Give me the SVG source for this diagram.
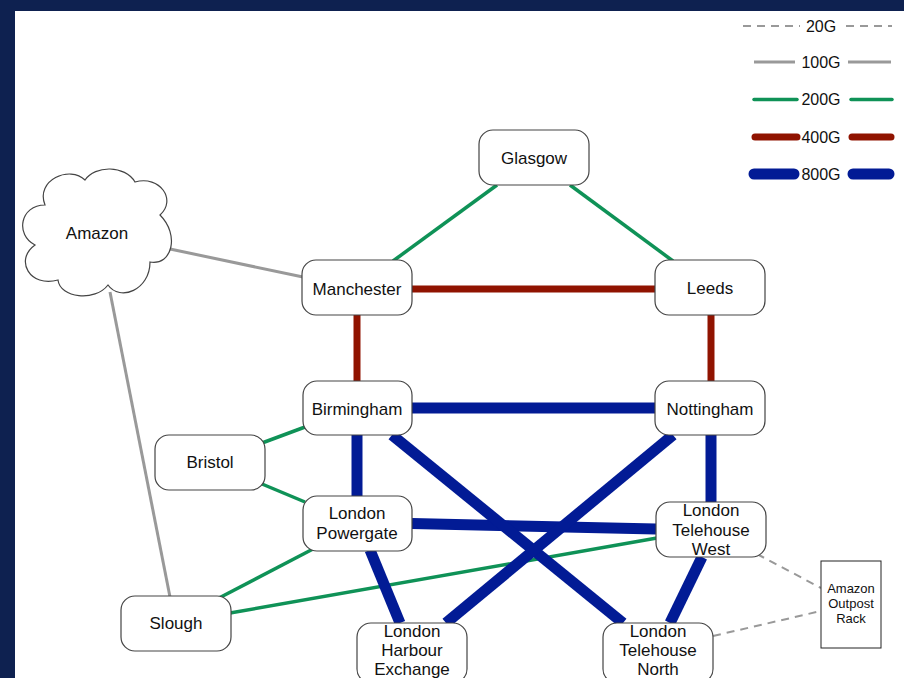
<svg xmlns="http://www.w3.org/2000/svg" width="904" height="678" viewBox="0 0 904 678">
<style>
.node{fill:#fff;stroke:#444;stroke-width:1.2}
.t{font-family:"Liberation Sans",Arial,sans-serif;font-size:17px;fill:#111;text-anchor:middle}
.ts{font-family:"Liberation Sans",Arial,sans-serif;font-size:13px;fill:#111;text-anchor:middle}
.g20{stroke:#999;stroke-width:2;stroke-dasharray:8 6;fill:none}
.g100{stroke:#999;stroke-width:3;fill:none}
.g200{stroke:#0f9257;stroke-width:3.5;fill:none}
.g400{stroke:#901300;stroke-width:7;fill:none}
.g800{stroke:#021b95;stroke-width:11;fill:none}
.cap{stroke-linecap:round}
</style>
<rect x="0" y="0" width="904" height="678" fill="#0e2150"/>
<rect x="15" y="11" width="889" height="667" fill="#fff"/>

<g id="legend">
<line class="g20" x1="743" y1="26" x2="800" y2="26"/>
<line class="g20" x1="846" y1="26" x2="892" y2="26"/>
<text class="t" x="821" y="32" style="font-size:16px">20G</text>
<line class="g100" x1="754" y1="62" x2="795" y2="62"/>
<line class="g100" x1="848" y1="62" x2="891" y2="62"/>
<text class="t" x="821" y="68" style="font-size:16px">100G</text>
<line class="g200 cap" x1="754" y1="99.5" x2="797" y2="99.5"/>
<line class="g200 cap" x1="851" y1="99.5" x2="892" y2="99.5"/>
<text class="t" x="821" y="105" style="font-size:16px">200G</text>
<line class="g400 cap" x1="755" y1="137" x2="797" y2="137"/>
<line class="g400 cap" x1="852" y1="137" x2="891" y2="137"/>
<text class="t" x="821" y="143" style="font-size:16px">400G</text>
<line class="g800 cap" x1="754" y1="174" x2="794" y2="174"/>
<line class="g800 cap" x1="853" y1="174" x2="889" y2="174"/>
<text class="t" x="821" y="180" style="font-size:16px">800G</text>
</g>

<g id="connectors">
<line class="g100" x1="170" y1="249" x2="303" y2="277"/>
<line class="g100" x1="110" y1="292" x2="170" y2="597"/>
<line class="g200" x1="497" y1="185" x2="393" y2="261"/>
<line class="g200" x1="570" y1="185" x2="673" y2="261"/>
<line class="g200" x1="262" y1="443" x2="305" y2="427"/>
<line class="g200" x1="262" y1="484" x2="305" y2="502"/>
<line class="g200" x1="313" y1="549" x2="219" y2="598"/>
<line class="g200" x1="657" y1="538" x2="230" y2="613"/>
<line class="g400" x1="412" y1="289" x2="656" y2="289"/>
<line class="g400" x1="357" y1="315" x2="357" y2="382"/>
<line class="g400" x1="711" y1="315" x2="711" y2="382"/>
<line class="g800" x1="411" y1="408" x2="656" y2="408"/>
<line class="g800" x1="357" y1="435" x2="357" y2="497"/>
<line class="g800" x1="711" y1="435" x2="711" y2="502"/>
<line class="g800" x1="412" y1="523.5" x2="656" y2="529"/>
<line class="g800" x1="392" y1="435" x2="623" y2="623"/>
<line class="g800" x1="673" y1="435" x2="446" y2="623"/>
<line class="g800" x1="370" y1="550" x2="400" y2="623"/>
<line class="g800" x1="702" y1="557" x2="670" y2="623"/>
<line class="g20" x1="757" y1="554" x2="821" y2="588"/>
<line class="g20" x1="713" y1="636" x2="821" y2="611"/>
</g>

<g id="amazon">
<path class="node" d="M45,205 C35,180 70,165 85,180 C95,165 125,165 135,182 C160,175 177,200 160,215 C180,235 172,266 150,262 C150,290 120,302 108,285 C95,302 60,298 58,280 C30,288 14,260 35,245 C15,235 20,205 45,205 Z"/>
<text class="t" x="97" y="239">Amazon</text>
</g>
<g id="glasgow"><rect class="node" x="479" y="130" width="110" height="55" rx="14"/><text class="t" x="534" y="164">Glasgow</text></g>
<g id="manchester"><rect class="node" x="302" y="260" width="110" height="55" rx="14"/><text class="t" x="357" y="295">Manchester</text></g>
<g id="leeds"><rect class="node" x="655" y="260" width="110" height="55" rx="14"/><text class="t" x="710" y="294">Leeds</text></g>
<g id="birmingham"><rect class="node" x="303" y="381" width="109" height="54" rx="14"/><text class="t" x="357" y="415">Birmingham</text></g>
<g id="nottingham"><rect class="node" x="655" y="381" width="110" height="54" rx="14"/><text class="t" x="710" y="415">Nottingham</text></g>
<g id="bristol"><rect class="node" x="155" y="435" width="110" height="55" rx="14"/><text class="t" x="210" y="468">Bristol</text></g>
<g id="powergate"><rect class="node" x="303" y="496" width="109" height="55" rx="14"/><text class="t" x="357" y="519">London</text><text class="t" x="357" y="539">Powergate</text></g>
<g id="telehouse-west"><rect class="node" x="656" y="502" width="110" height="55" rx="14"/><text class="t" x="711" y="516">London</text><text class="t" x="711" y="536">Telehouse</text><text class="t" x="711" y="555">West</text></g>
<g id="slough"><rect class="node" x="121" y="596" width="110" height="55" rx="14"/><text class="t" x="176" y="629">Slough</text></g>
<g id="harbour-exchange"><rect class="node" x="357" y="623" width="110" height="60" rx="14"/><text class="t" x="412" y="637">London</text><text class="t" x="412" y="656">Harbour</text><text class="t" x="412" y="675">Exchange</text></g>
<g id="telehouse-north"><rect class="node" x="603" y="623" width="110" height="60" rx="14"/><text class="t" x="658" y="637">London</text><text class="t" x="658" y="656">Telehouse</text><text class="t" x="658" y="675">North</text></g>
<g id="outpost"><rect x="821" y="561" width="60" height="87" fill="#fff" stroke="#222" stroke-width="1"/><text class="ts" x="851" y="593">Amazon</text><text class="ts" x="851" y="608">Outpost</text><text class="ts" x="851" y="623">Rack</text></g>
</svg>
